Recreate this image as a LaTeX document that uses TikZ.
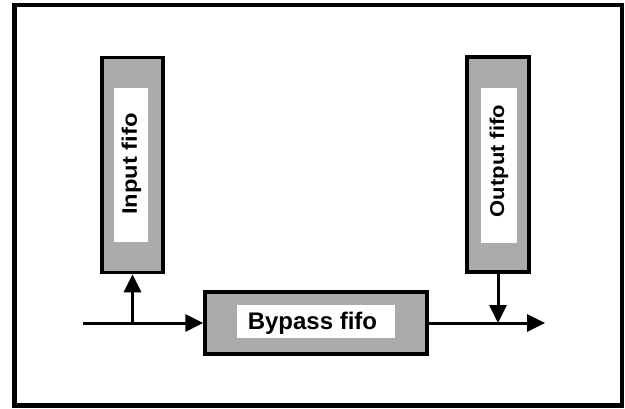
\documentclass[tikz,border=0pt]{standalone}
\usepackage{fontspec}
\setmainfont{Liberation Sans}
\usetikzlibrary{arrows.meta}
\tikzset{
  fifo/.style={draw=black, line width=3.5pt, fill=black!33, inner sep=0pt, anchor=center},
  innerbox/.style={fill=white, draw=none, inner sep=0pt, anchor=center},
  lbl/.style={inner sep=0pt, anchor=center},
  conn/.style={line width=3pt, -{Triangle[length=18pt,width=17pt]}},
  plain/.style={line width=3pt}
}
\begin{document}
\begin{tikzpicture}[x=1pt,y=-1pt]
\useasboundingbox (0,0) rectangle (625,408);
\draw[line width=4.5pt] (14.5,5) rectangle (622,405.5);
% boxes
\node[fifo, minimum width=61pt, minimum height=215pt] (inf) at (132.5,165) {};
\node[innerbox, minimum width=34pt, minimum height=154pt] (infw) at (130.5,165) {};
\node[lbl, rotate=90, font=\bfseries\fontsize{21}{21}\selectfont] (inft) at (131.5,164) {\scalebox{1.13}[1]{Input fifo}};
\node[fifo, minimum width=62pt, minimum height=215pt] (of) at (498,164.5) {};
\node[innerbox, minimum width=36pt, minimum height=155pt] (ofw) at (498.5,165.5) {};
\node[lbl, rotate=90, font=\bfseries\fontsize{20}{20}\selectfont] (oft) at (499,161) {\scalebox{1.1}[1]{Output fifo}};
\node[fifo, minimum width=222pt, minimum height=62pt] (bp) at (316,323) {};
\node[innerbox, minimum width=158pt, minimum height=33pt] (bpw) at (316,321.5) {};
\node[lbl, font=\bfseries\fontsize{24}{24}\selectfont] (bpt) at (312.5,323) {Bypass fifo};
% connectors
\coordinate (in) at (83,323);
\coordinate (j) at (inf.south |- bp.west);
\coordinate (out) at (545,323);
\coordinate (k) at (of.south |- bp.east);
\draw[plain] (in) -- (j);
\draw[conn] (j) -- (bp.west);
\draw[conn] (j) -- (inf.south);
\draw[conn] (bp.east) -- (out);
\draw[conn] (of.south) -- (k);
\end{tikzpicture}
\end{document}
